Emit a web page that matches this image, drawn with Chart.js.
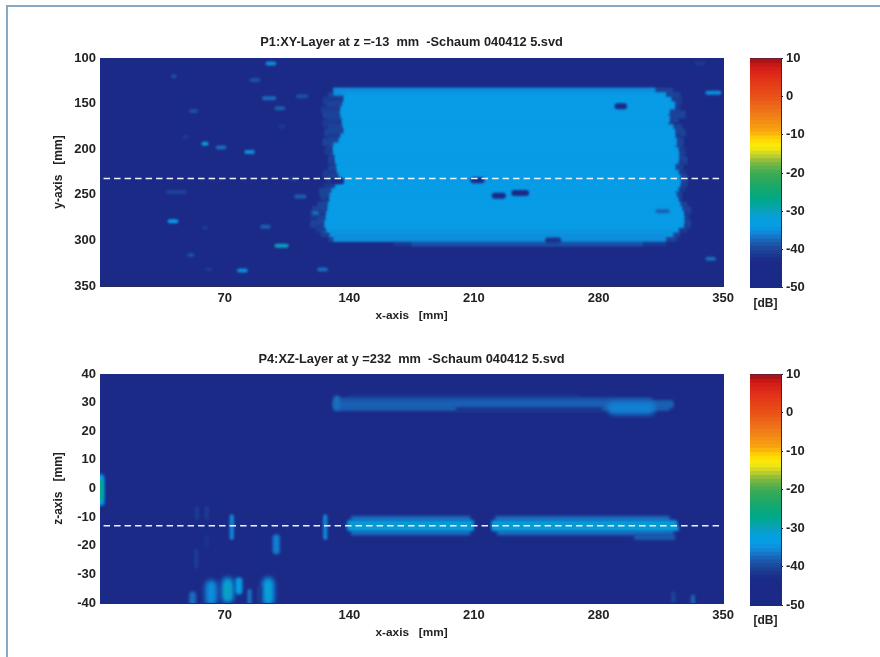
<!DOCTYPE html>
<html>
<head>
<meta charset="utf-8">
<title>Schaum 040412 5</title>
<script src="https://cdn.jsdelivr.net/npm/chart.js@4"></script>
<style>
	html, body { margin: 0; padding: 0; background: #fff; overflow: hidden; }
	#frame { position: absolute; left: 6px; top: 5px; width: 900px; height: 700px; border: 2px solid #86a9c4; }
	canvas { position: absolute; }
</style>
</head>
<body>
<div id="frame"></div>
<canvas id="xyChart" width="700" height="300" style="left:40px;top:30px"></canvas>
<canvas id="xyBar" width="80" height="300" style="left:745px;top:30px"></canvas>
<canvas id="xzChart" width="700" height="300" style="left:40px;top:346px"></canvas>
<canvas id="xzBar" width="80" height="300" style="left:745px;top:346px"></canvas>
<script>
// colour table, dB -> rgb
var stopDb = [-50, -43, -40, -37, -36, -34, -32, -30, -27, -24, -20, -17, -15, -13, -11, -9, -5, 0, 5, 8, 10];
var stopRgb = [[27,42,135],[27,42,135],[28,68,152],[26,108,190],[18,128,210],[8,156,230],[4,160,224],[10,160,190],[0,168,140],[20,168,110],[60,170,85],[130,185,65],[200,210,40],[250,236,10],[255,216,0],[248,168,16],[240,128,24],[232,84,24],[228,48,24],[208,28,24],[160,16,16]];
var barLevels = [-50,-49,-48,-47,-46,-45,-44,-43,-42,-41,-40,-39,-38,-37,-36,-35,-34,-33,-32,-31,-30,-29,-28,-27,-26,-25,-24,-23,-22,-21,-20,-19,-18,-17,-16,-15,-14,-13,-12,-11,-10,-9,-8,-7,-6,-5,-4,-3,-2,-1,0,1,2,3,4,5,6,7,8,9];

var xTicks = [70, 140, 210, 280, 350];

// P1 xy layer: the bright plate, one row per y
var plateY  = [302,137,142,147,152,157,162,167,172,177,182,187,192,197,202,207,212,217,222,227,232,237,242,247,252,257,262,267,272,277,282,287,292,297];
var plateX0 = [175,131,137,137,136,135,135,136,136,137,137,135,134,131,131,132,132,133,133,134,136,137,132,130,129,129,128,128,127,127,126,127,129,131];
var plateX1 = [305,312,318,321,323,320,319,320,319,322,323,323,324,323,325,325,325,323,323,325,326,326,325,323,324,325,326,327,328,328,328,325,322,318];
var plateDb = [-39,-35,-34,-34,-34,-34,-34,-34,-34,-34,-34,-34,-34,-34,-34,-34,-34,-34,-34,-34,-34,-34,-34,-34,-34,-34,-34,-34,-34,-34,-34,-34,-34.5,-35];
var fringeY  = [137,142,147,152,157,162,167,172,177,182,187,192,197,202,207,212,217,222,227,232,237,242,247,252,257,262,267,272,277,282,287,292,297,302];
var fringeX0 = [131,128,125,127,124,125,127,125,128,126,128,125,128,126,129,128,130,128,125,128,129,126,123,124,126,122,119,118,122,118,121,124,128,165];
var fringeX1 = [322,326,327,325,326,329,325,322,327,329,326,328,327,329,328,330,328,327,329,330,330,329,326,327,327,330,332,331,330,332,330,326,324,318];
var fringeDb = [-40,-40,-41,-40,-41,-40,-40,-41,-40,-40,-41,-40,-40,-41,-40,-40,-41,-40,-41,-40,-40,-41,-40,-40,-41,-40,-40,-41,-40,-40,-41,-40,-40,-41];

// P1 spots on the dark floor
var spotX0 = [57,65,81,38,98,77,122,93,91,98,50,40,84,37,109,119,90,57,49,110,100,46,106,59,340,340,334,312];
var spotX1 = [61,71,87,44,106,83,128,99,99,104,55,43,90,49,116,123,96,61,53,117,104,50,111,63,349,346,340,320];
var spotY  = [194,198,203,279,306,333,332,106,144,155,158,120,124,247,252,270,285,286,316,142,175,187,233,332,138,320,106,268];
var spotDb = [-31,-37,-35,-34,-30,-35,-37,-35,-37,-38,-39,-39,-39,-40,-38,-37,-38,-41,-39,-39,-41,-41,-41,-41,-35,-37,-41,-38];

// P1 holes in the plate
var holeX0 = [289,208,220,231,250,129];
var holeX1 = [296,216,228,241,259,137];
var holeY  = [153,234,251,248,300,235];
var holeDb = [-45,-45,-45,-45,-42,-45];

var cutXY_x = [2, 348];
var cutXY_y = [232, 232];

// P4 xz layer: the two strips, one row per z, dim rims first so the middle sits on top
var stripZ  = [32,31,30,29,28,27.5,-10.5,-15.5,-12,-14,-13,-10.5,-15.5,-17,-12,-14,-13];
var stripX0 = [140,132,131,131,134,200,141,141,139,139,139,222,223,300,220,220,220];
var stripX1 = [270,310,322,322,320,282,208,208,210,210,209,320,322,323,324,325,324];
var stripDb = [-42,-39,-38,-37.5,-38,-42,-37,-37,-33,-33,-31,-37,-37,-38,-33,-33,-31];

// P4 wide lump on the upper strip
var lumpX0 = [285];
var lumpX1 = [312];
var lumpZ  = [28];
var lumpDb = [-36];

// P4 upright blobs, low and high end in z, split by how wide they look
var wideX  = [71.7, 62.5, 94.5];
var wideZ0 = [-40, -41, -41];
var wideZ1 = [-31, -32, -31];
var wideDb = [-33, -35, -34];

var midX  = [0.5, 71.7, 78, 52, 99, 133];
var midZ0 = [-6, -38.5, -37, -41, -23, 27];
var midZ1 = [5, -33, -31, -36, -16, 32.5];
var midDb = [-33, -30, -33, -37, -36, -37];

var thinX  = [0.5, 84, 89.5, 54, 74, 126.5, 54.5, 60, 60, 322, 333, 94.5];
var thinZ0 = [-4, -41, -40, -28, -18, -18, -11, -11, -21, -40, -41, -39];
var thinZ1 = [3, -35, -34, -21, -9, -9, -6, -6, -16, -36, -37, -33];
var thinDb = [-27, -37, -41, -41, -36, -36, -41, -41, -42, -40, -38, -31];

var cutXZ_x = [2, 348];
var cutXZ_y = [-13, -13];

var fontFam = '"Liberation Sans", Arial, sans-serif';
var inkCol = '#222';
var lineCol = '#2a2a55';

function dbColor(v) {
	for (var i = 1; i < stopDb.length; i++) {
		if (v <= stopDb[i]) {
			var t = (v - stopDb[i - 1]) / (stopDb[i] - stopDb[i - 1]);
			var a = stopRgb[i - 1], b = stopRgb[i];
			return 'rgb(' + Math.round(a[0] + (b[0] - a[0]) * t) + ',' + Math.round(a[1] + (b[1] - a[1]) * t) + ',' + Math.round(a[2] + (b[2] - a[2]) * t) + ')';
		}
	}
	return 'rgb(160,16,16)';
}

function rowSet(x0, x1, y, db, thick, soft, radius) {
	return {
		type: 'bar', indexAxis: 'y', grouped: false, barThickness: thick, soft: soft,
		borderRadius: radius || 0, borderSkipped: false, inflateAmount: 0,
		data: y.map(function (v, i) { return { x: [x0[i], x1[i]], y: v }; }),
		backgroundColor: db.map(dbColor)
	};
}

function blobSet(x, z0, z1, db, thick, soft) {
	return {
		type: 'bar', indexAxis: 'x', grouped: false, barThickness: thick, soft: soft,
		borderRadius: 6, borderSkipped: false, inflateAmount: 0,
		data: x.map(function (v, i) { return { x: v, y: [z0[i], z1[i]] }; }),
		backgroundColor: db.map(dbColor)
	};
}

function cutLine(x, y) {
	return {
		type: 'line', soft: 0.35, data: x.map(function (v, i) { return { x: v, y: y[i] }; }),
		borderColor: '#eef2ff', borderWidth: 1.5, borderDash: [6.5, 4], pointRadius: 0
	};
}

// each dataset can ask for a soft edge, the reference is a smeared scan
var softEdges = {
	id: 'softEdges',
	beforeDatasetDraw: function (chart, args) {
		var s = chart.data.datasets[args.index].soft;
		if (s) chart.ctx.filter = 'blur(' + s + 'px)';
	},
	afterDatasetDraw: function (chart) { chart.ctx.filter = 'none'; }
};

function axisFont(size) { return { family: fontFam, size: size, weight: 'bold', lineHeight: 1 }; }

// empty axis that only gives the far edge of a plot its line
function edgeAxis(pos, lo, hi, side) {
	return {
		type: 'linear', position: pos, min: lo, max: hi, offset: false,
		border: { color: lineCol }, grid: { display: false, drawTicks: false, offset: false },
		ticks: { display: false },
		afterFit: function (s) { s[side] = 0; }
	};
}

function panel(id, title, titleTop, yTitle, yOpts, sets, below, xTitleGap) {
	new Chart(document.getElementById(id), {
		type: 'scatter',
		data: { datasets: sets.reverse() },
		plugins: [softEdges],
		options: {
			responsive: false, animation: false,
			layout: { padding: { right: 13 } },
			plugins: {
				legend: { display: false },
				tooltip: { enabled: false },
				title: {
					display: true, fullSize: false, text: title, color: inkCol, font: axisFont(12.8),
					padding: { top: titleTop, bottom: 15.2 - titleTop }
				}
			},
			scales: {
				x: {
					type: 'linear', min: 0, max: 350, offset: false,
					border: { color: lineCol }, grid: { display: false, drawTicks: false, offset: false },
					afterBuildTicks: function (s) { s.ticks = xTicks.map(function (v) { return { value: v }; }); },
					ticks: { color: inkCol, font: axisFont(13), padding: 6, maxRotation: 0, autoSkip: false },
					title: { display: true, text: 'x-axis   [mm]', color: inkCol, font: axisFont(11.8), padding: { top: 0, bottom: xTitleGap } },
					afterFit: function (s) { s.height = below; }
				},
				x2: edgeAxis('top', 0, 350, 'height'),
				y: Object.assign({
					type: 'linear', offset: false,
					border: { color: lineCol }, grid: { display: false, drawTicks: false, offset: false },
					title: { display: true, text: yTitle, color: inkCol, font: axisFont(12), padding: { top: 13, bottom: 0 } },
					afterFit: function (s) { s.width = 60; }
				}, yOpts),
				y2: edgeAxis('right', 0, 1, 'width')
			}
		}
	});
}

function colorBar(id, below) {
	new Chart(document.getElementById(id), {
		type: 'scatter',
		data: {
			datasets: [rowSet(barLevels.map(function () { return 0; }), barLevels.map(function () { return 1; }),
				barLevels.map(function (v) { return v + 0.5; }), barLevels.map(function (v) { return v + 0.5; }), 5, 0)]
		},
		options: {
			responsive: false, animation: false,
			layout: { padding: { left: 5, top: 28.5 } },
			plugins: { legend: { display: false }, tooltip: { enabled: false } },
			scales: {
				x: {
					type: 'linear', min: 0, max: 1, offset: false,
					border: { color: lineCol }, grid: { display: false, drawTicks: false, offset: false },
					ticks: { display: false },
					title: { display: true, text: '[dB]', color: inkCol, font: axisFont(12), padding: { top: 0, bottom: below - 22 } },
					afterFit: function (s) { s.height = below; }
				},
				x2: edgeAxis('top', 0, 1, 'height'),
				y: {
					type: 'linear', position: 'right', min: -50, max: 10, offset: false,
					border: { color: lineCol }, grid: { drawOnChartArea: false, tickLength: 2, tickColor: lineCol, offset: false },
					ticks: { stepSize: 10, color: inkCol, font: axisFont(13), padding: 3 },
					afterFit: function (s) { s.width = 44; }
				},
				y2: edgeAxis('left', -50, 10, 'width')
			}
		}
	});
}

panel('xyChart', 'P1:XY-Layer at z =-13  mm  -Schaum 040412 5.svd', 6.5, 'y-axis   [mm]',
	{ min: 100, max: 350, reverse: true, ticks: { stepSize: 50, color: inkCol, font: axisFont(13), padding: 4 } },
	[
		rowSet([0], [350], [225], [-46], 240, 0),
		rowSet(fringeX0, fringeX1, fringeY, fringeDb, 8, 1.3),
		rowSet(plateX0, plateX1, plateY, plateDb, 8, 1),
		rowSet(spotX0, spotX1, spotY, spotDb, 4, 1.2, 2),
		rowSet(holeX0, holeX1, holeY, holeDb, 6, 1, 3),
		cutLine(cutXY_x, cutXY_y)
	], 44, 8);

panel('xzChart', 'P4:XZ-Layer at y =232  mm  -Schaum 040412 5.svd', 7.5, 'z-axis   [mm]',
	{ min: -40, max: 40, ticks: { stepSize: 10, color: inkCol, font: axisFont(13), padding: 4 } },
	[
		rowSet([0], [350], [0], [-46], 240, 0),
		rowSet(stripX0, stripX1, stripZ, stripDb, 5, 1.8),
		rowSet(lumpX0, lumpX1, lumpZ, lumpDb, 13, 2.5, 6),
		blobSet(wideX, wideZ0, wideZ1, wideDb, 12, 2.5),
		blobSet(midX, midZ0, midZ1, midDb, 7, 1.8),
		blobSet(thinX, thinZ0, thinZ1, thinDb, 4.5, 1.3),
		cutLine(cutXZ_x, cutXZ_y)
	], 43, 7);

colorBar('xyBar', 42.5);
colorBar('xzBar', 41);
</script>
</body>
</html>
